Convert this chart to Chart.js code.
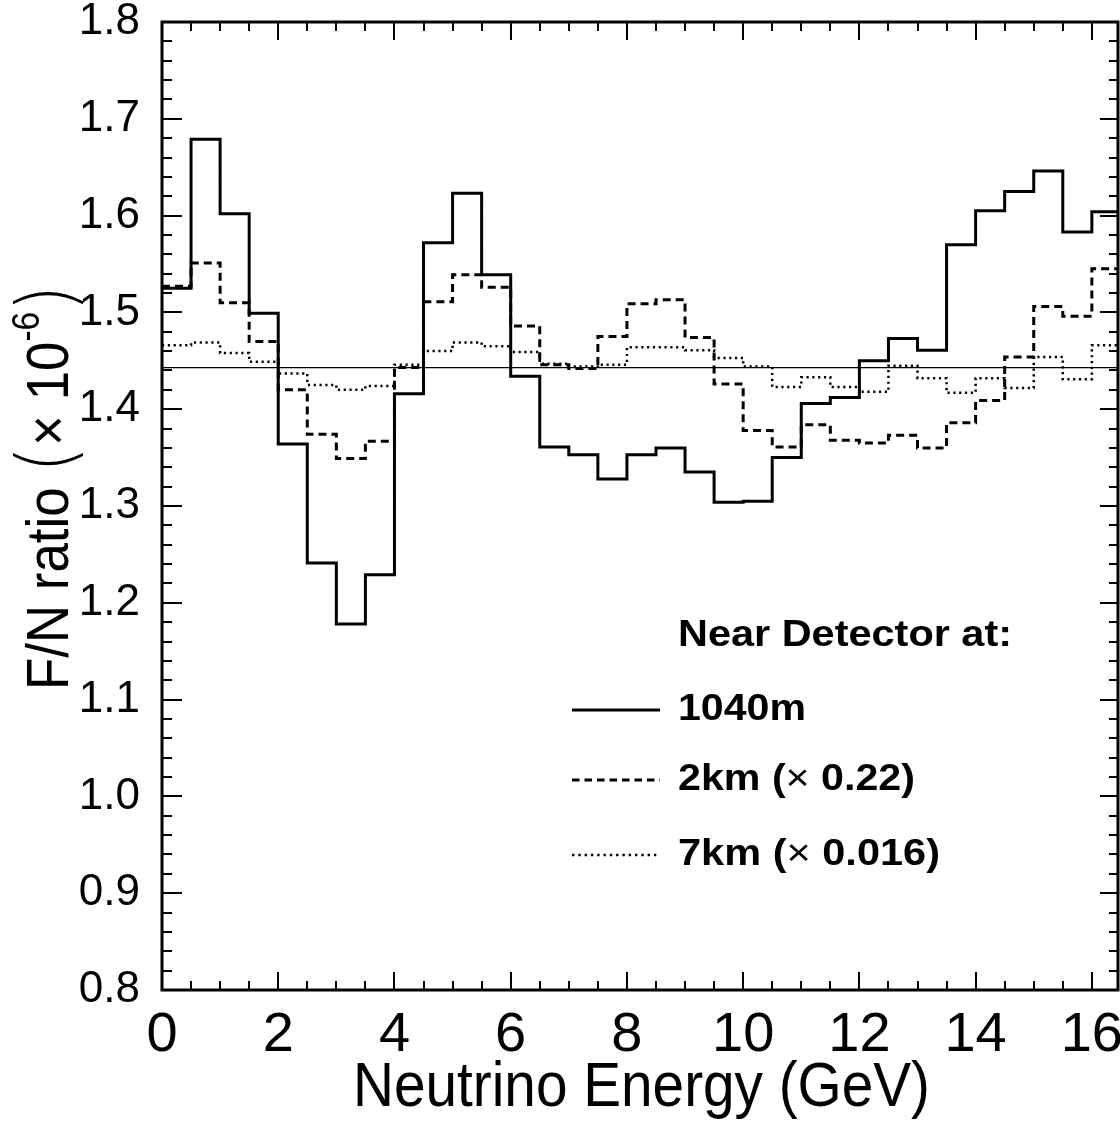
<!DOCTYPE html>
<html><head><meta charset="utf-8">
<script src="https://cdn.jsdelivr.net/npm/chart.js@4/dist/chart.umd.min.js"></script>
<style>html,body{margin:0;padding:0;background:#fff;}canvas{display:block;}</style>
</head><body>
<canvas id="c" width="1120" height="1124"></canvas>
<script>
// ---- data (F/N ratio, x 10^-6) ----
const binLowEdges = [0,0.5,1,1.5,2,2.5,3,3.5,4,4.5,5,5.5,6,6.5,7,7.5,8,8.5,9,9.5,10,10.5,11,11.5,12,12.5,13,13.5,14,14.5,15,15.5,16];
const binUpEdge = 16.5;
const near1040m = [1.525,1.679,1.602,1.499,1.364,1.241,1.178,1.229,1.416,1.572,1.623,1.539,1.434,1.361,1.353,1.328,1.353,1.360,1.335,1.304,1.305,1.350,1.406,1.412,1.450,1.473,1.461,1.570,1.605,1.625,1.646,1.583,1.604];
const near2km   = [1.527,1.551,1.510,1.470,1.420,1.374,1.349,1.367,1.443,1.511,1.539,1.526,1.486,1.446,1.442,1.475,1.509,1.513,1.474,1.426,1.378,1.361,1.384,1.368,1.365,1.373,1.360,1.386,1.409,1.454,1.506,1.496,1.545];
const near7km   = [1.466,1.469,1.458,1.449,1.437,1.425,1.420,1.424,1.446,1.460,1.469,1.465,1.459,1.447,1.444,1.446,1.464,1.464,1.461,1.453,1.444,1.423,1.433,1.423,1.418,1.445,1.432,1.417,1.432,1.422,1.454,1.431,1.466];
const meanRatio = 1.443;
const xTickValues = [0,2,4,6,8,10,12,14,16];
const yTickValues = [0.8,0.9,1.0,1.1,1.2,1.3,1.4,1.5,1.6,1.7,1.8];
const legendHeader = "Near Detector at:";
const legendLabels = [["1040m"],["2km (","\u00d7"," 0.22)"],["7km (","\u00d7"," 0.016)"]];
const xTitle = "Neutrino Energy (GeV)";

const X_MIN = 0, X_MAX = 16.45, Y_MIN = 0.8, Y_MAX = 1.8;
const FONT = "'Liberation Sans', Arial, Helvetica, sans-serif";

function hist(vals){
  const pts = binLowEdges.map((e,i)=>({x:e, y:vals[i]}));
  pts.push({x:binUpEdge, y:vals[vals.length-1]});
  return pts;
}

const dashStyles = [[], [8,5], [2.2,3.6]];
const widths = [3, 3, 2.5];

function fitText(ctx, pieces, x, y, targetW){
  let w = 0;
  pieces.forEach(p=>{ctx.font=p.font; w += ctx.measureText(p.t).width;});
  const s = targetW / w;
  ctx.save();
  ctx.translate(x, y);
  ctx.scale(s, 1);
  let cx = 0;
  pieces.forEach(p=>{ctx.font=p.font; ctx.fillText(p.t, cx, p.dy||0); cx += ctx.measureText(p.t).width;});
  ctx.restore();
}

const framePlugin = {
  id:'frame',
  afterDraw(chart){
    const {ctx, chartArea:a, scales:{x, y}} = chart;
    ctx.save();
    ctx.strokeStyle = '#000';
    ctx.lineWidth = 2;
    ctx.beginPath();
    for (let i=0; i*0.5 <= X_MAX+1e-9; i++){
      const px = Math.round(x.getPixelForValue(i*0.5));
      const L = (i%4===0) ? 18 : 9;
      ctx.moveTo(px, a.bottom); ctx.lineTo(px, a.bottom-L);
      ctx.moveTo(px, a.top); ctx.lineTo(px, a.top+L);
    }
    for (let i=0; i<=50; i++){
      const py = Math.round(y.getPixelForValue(Y_MIN + i*0.02));
      const Ll = (i%5===0) ? 20 : 10;
      const Lr = (i%5===0) ? 18 : 9;
      ctx.moveTo(a.left, py); ctx.lineTo(a.left+Ll, py);
      ctx.moveTo(a.right, py); ctx.lineTo(a.right-Lr, py);
    }
    ctx.stroke();
    ctx.lineWidth = 3;
    ctx.strokeRect(a.left, a.top, a.right-a.left, a.bottom-a.top);

    ctx.fillStyle = '#000';
    ctx.textBaseline = 'alphabetic';
    fitText(ctx, [{t:xTitle, font:`63px ${FONT}`}], 353, 1106, 577);
    ctx.save();
    ctx.translate(68, 690);
    ctx.rotate(-Math.PI/2);
    const reg = `60px ${FONT}`;
    const par = `300 78px 'DejaVu Sans', ${FONT}`;
    fitText(ctx, [
      {t:"F/N ratio ", font:reg},
      {t:"(", font:par, dy:5},
      {t:"\u00d7 10", font:reg},
      {t:"-6", font:`38px ${FONT}`, dy:-29},
      {t:")", font:par, dy:5}
    ], 0, 0, 405);
    ctx.restore();

    const lx0 = 572, lx1 = 660, tx = 678;
    ctx.textBaseline = 'middle';
    const bold = `bold 36px ${FONT}`;
    const regL = `36px ${FONT}`;
    fitText(ctx, [{t:legendHeader, font:bold}], tx, 636, 334);
    const rowsY = [710, 780, 855];
    const rowsW = [128, 237, 262];
    const legDash = [[], [7.5,5], [2.4,3.9]];
    legendLabels.forEach((parts, i)=>{
      ctx.beginPath();
      ctx.lineWidth = widths[i];
      ctx.setLineDash(legDash[i]);
      ctx.moveTo(lx0, rowsY[i]); ctx.lineTo(lx1, rowsY[i]);
      ctx.stroke();
      ctx.setLineDash([]);
      fitText(ctx, parts.map(p=>({t:p, font: p==="\u00d7" ? regL : bold})), tx, rowsY[i], rowsW[i]);
    });
    ctx.restore();
  }
};

new Chart(document.getElementById('c'), {
  type:'line',
  data:{
    datasets:[
      {label:'1040m', data:hist(near1040m), borderColor:'#000', borderWidth:widths[0], borderDash:dashStyles[0], stepped:true, pointRadius:0, fill:false, borderCapStyle:'butt', borderJoinStyle:'miter'},
      {label:'2km (x 0.22)', data:hist(near2km), borderColor:'#000', borderWidth:widths[1], borderDash:dashStyles[1], stepped:true, pointRadius:0, fill:false, borderCapStyle:'butt', borderJoinStyle:'miter'},
      {label:'7km (x 0.016)', data:hist(near7km), borderColor:'#000', borderWidth:widths[2], borderDash:dashStyles[2], stepped:true, pointRadius:0, fill:false, borderCapStyle:'butt', borderJoinStyle:'miter'},
      {label:'mean', data:[{x:X_MIN,y:meanRatio},{x:binUpEdge,y:meanRatio}], borderColor:'#000', borderWidth:1.3, pointRadius:0, fill:false}
    ]
  },
  options:{
    responsive:false, animation:false, devicePixelRatio:1,
    layout:{padding:{top:22, right:2, left:0, bottom:0}},
    plugins:{legend:{display:false}, tooltip:{enabled:false}},
    scales:{
      x:{type:'linear', min:X_MIN, max:X_MAX,
        grid:{display:false, drawTicks:false}, border:{display:false},
        ticks:{color:'#000', font:{family:FONT, size:56}, padding:12, maxRotation:0, autoSkip:false},
        afterBuildTicks:s=>{s.ticks = xTickValues.map(v=>({value:v}));},
        afterFit:s=>{s.height = 134; s.paddingLeft = 0; s.paddingRight = 0;}
      },
      y:{type:'linear', min:Y_MIN, max:Y_MAX,
        grid:{display:false, drawTicks:false}, border:{display:false},
        ticks:{color:'#000', font:{family:FONT, size:44}, padding:22, callback:v=>Number(v).toFixed(1)},
        afterBuildTicks:s=>{s.ticks = yTickValues.map(v=>({value:v}));},
        afterFit:s=>{s.width = 162; s.paddingTop = 0; s.paddingBottom = 0;}
      }
    }
  },
  plugins:[framePlugin]
});
</script>
</body></html>
